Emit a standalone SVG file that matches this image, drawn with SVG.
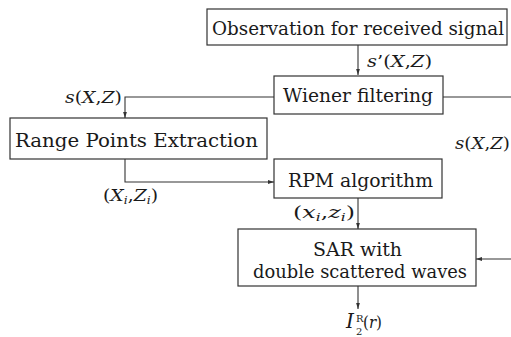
<svg xmlns="http://www.w3.org/2000/svg" width="511" height="337" viewBox="0 0 511 337">
<style>
.box{fill:#fff;stroke:#333;stroke-width:1.2}
.t{font-family:"DejaVu Serif","Liberation Serif",serif;font-size:19px;fill:#1a1a1a}
.lb{font-family:"DejaVu Serif","Liberation Serif",serif;font-size:17px;fill:#1a1a1a}
.it{font-style:italic}
.sub{font-size:11px}
.sm{font-family:"DejaVu Serif","Liberation Serif",serif;font-size:10px;fill:#1a1a1a}
.c{fill:none;stroke:#333;stroke-width:1.1}
</style>
<defs>
<marker id="ah" markerUnits="userSpaceOnUse" markerWidth="6" markerHeight="5" refX="6" refY="2.5" orient="auto">
<path d="M0,0.6 L6,2.5 L0,4.4 Z" fill="#333"/>
</marker>
</defs>
<rect width="511" height="337" fill="#fff"/>
<g id="connectors">
<line class="c" x1="358" y1="45" x2="358" y2="75" marker-end="url(#ah)"/>
<polyline class="c" points="274,97 125,97 125,118" marker-end="url(#ah)"/>
<line class="c" x1="443" y1="97" x2="511" y2="97"/>
<polyline class="c" points="125,159 125,182 274,182" marker-end="url(#ah)"/>
<line class="c" x1="358" y1="198" x2="358" y2="229" marker-end="url(#ah)"/>
<line class="c" x1="511" y1="259" x2="476" y2="259" marker-end="url(#ah)"/>
<line class="c" x1="358" y1="286" x2="358" y2="309" marker-end="url(#ah)"/>
</g>
<g id="observation">
<rect class="box" x="207" y="9" width="300" height="36"/>
<text class="t" x="212" y="35" textLength="292" lengthAdjust="spacingAndGlyphs">Observation for received signal</text>
</g>
<g id="wiener">
<rect class="box" x="274" y="76" width="169" height="38"/>
<text class="t" x="283" y="102" textLength="150" lengthAdjust="spacingAndGlyphs">Wiener filtering</text>
</g>
<g id="range">
<rect class="box" x="10" y="118" width="257" height="41"/>
<text class="t" x="15" y="147" textLength="243" lengthAdjust="spacingAndGlyphs">Range Points Extraction</text>
</g>
<g id="rpm">
<rect class="box" x="274" y="159" width="168" height="39"/>
<text class="t" x="288" y="187" textLength="145" lengthAdjust="spacingAndGlyphs">RPM algorithm</text>
</g>
<g id="sar">
<rect class="box" x="238" y="229" width="238" height="57"/>
<text class="t" x="313" y="256" textLength="89" lengthAdjust="spacingAndGlyphs">SAR with</text>
<text class="t" x="253" y="278" textLength="214" lengthAdjust="spacingAndGlyphs">double scattered waves</text>
</g>
<g id="labels">
<text class="lb" x="367" y="67" textLength="65" lengthAdjust="spacingAndGlyphs"><tspan class="it">s</tspan>’(<tspan class="it">X</tspan>,<tspan class="it">Z</tspan>)</text>
<text class="lb" x="65" y="103" textLength="57" lengthAdjust="spacingAndGlyphs"><tspan class="it">s</tspan>(<tspan class="it">X</tspan>,<tspan class="it">Z</tspan>)</text>
<text class="lb" x="455" y="149" textLength="55" lengthAdjust="spacingAndGlyphs"><tspan class="it">s</tspan>(<tspan class="it">X</tspan>,<tspan class="it">Z</tspan>)</text>
<text class="lb" x="103" y="201" textLength="55" lengthAdjust="spacingAndGlyphs">(<tspan class="it">X</tspan><tspan class="it sub" dy="3">i</tspan><tspan dy="-3">,</tspan><tspan class="it">Z</tspan><tspan class="it sub" dy="3">i</tspan><tspan dy="-3">)</tspan></text>
<text class="lb" x="293" y="218" textLength="62" lengthAdjust="spacingAndGlyphs">(<tspan class="it">x</tspan><tspan class="it sub" dy="3">i</tspan><tspan dy="-3">,</tspan><tspan class="it">z</tspan><tspan class="it sub" dy="3">i</tspan><tspan dy="-3">)</tspan></text>
<text class="lb it" x="346" y="328" style="font-size:20px">I</text>
<text class="sm" x="356" y="322">R</text>
<text class="sm" x="356" y="335">2</text>
<text class="lb" x="363" y="328" textLength="19" lengthAdjust="spacingAndGlyphs">(<tspan class="it">r</tspan>)</text>
</g>
</svg>
